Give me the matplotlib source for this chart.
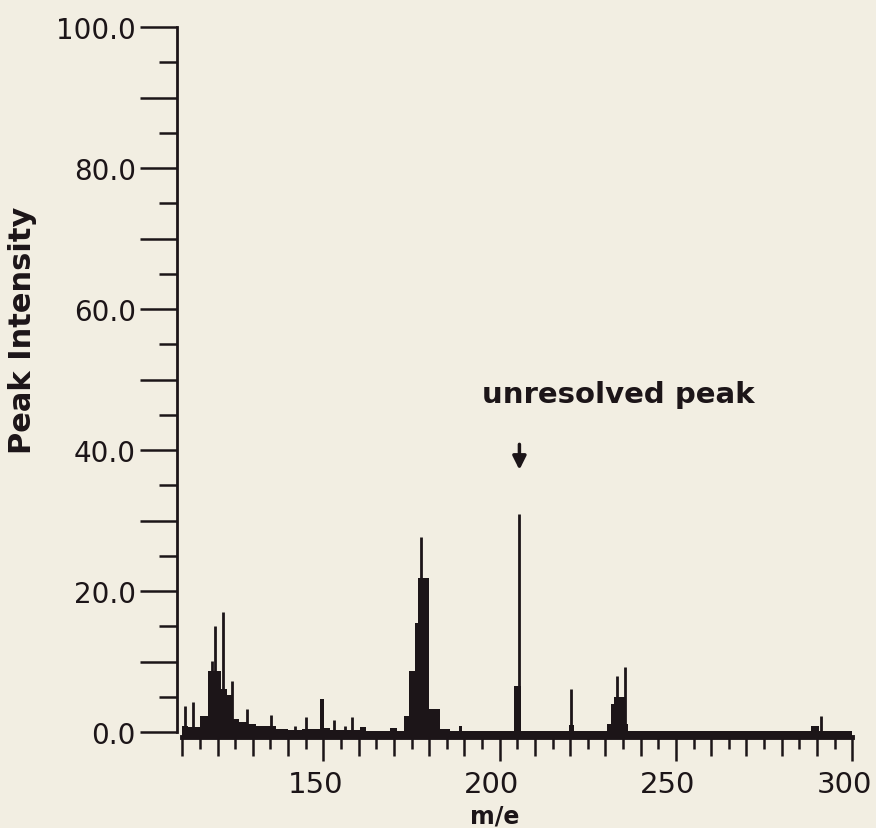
import matplotlib
matplotlib.use('Agg')
import matplotlib.pyplot as plt
import matplotlib.transforms as mtransforms
from matplotlib.ticker import MultipleLocator, FuncFormatter, FixedLocator

# broad, unresolved envelopes (left edge of each step, intensity of the step)
env_mz = [110.0, 111.5, 114.9, 117.4, 121.1, 122.6, 124.0, 126.0, 128.5, 131.0,
          134.0, 136.5, 140.0, 144.0, 149.0, 150.2, 152.0, 160.5, 162.0, 169.0,
          171.0, 173.0, 174.2, 175.9, 176.9, 179.9, 183.2, 186.0, 188.5, 189.2,
          204.0, 206.0, 219.6, 221.0, 230.5, 231.5, 232.5, 235.6, 236.5, 288.2,
          290.5, 300.0]
env_int = [0.9, 0.7, 2.3, 8.7, 6.1, 5.2, 1.8, 1.4, 1.1, 0.8,
           0.9, 0.5, 0.3, 0.5, 4.7, 0.6, 0.3, 0.7, 0.2, 0.6,
           0.2, 2.3, 8.7, 15.5, 21.8, 3.3, 0.5, 0.2, 0.9, 0.2,
           6.6, 0.2, 1.0, 0.2, 1.1, 4.0, 5.0, 1.1, 0.2, 0.8,
           0.2, 0.2]

# resolved single lines
peak_mz = [110.8, 113.1, 118.3, 119.2, 121.4, 124.0, 128.2, 135.1, 141.9, 145.0,
           153.1, 156.0, 158.1, 177.8, 188.8, 205.6, 220.3, 233.4, 235.5, 291.2]
peak_int = [3.7, 4.3, 10.1, 15.1, 17.0, 7.3, 3.3, 2.4, 0.9, 2.1,
            1.7, 0.9, 2.1, 27.7, 0.9, 30.9, 6.1, 8.0, 9.2, 2.3]

ink = '#1c1518'
bg = '#f2eee2'
base = -0.7

fig = plt.figure(figsize=(8.76, 8.29), dpi=100, facecolor=bg)
ax = fig.add_axes([0.2017, 0.1030, 0.7712, 0.8632])
ax.set_facecolor(bg)
ax.set_xlim(108.4, 300)
ax.set_ylim(-1.5, 100)

ax.fill_between(env_mz, base, env_int, step='post', color=ink, lw=0)
ax.vlines(peak_mz, base, peak_int, color=ink, lw=2.0)

for s in ['top', 'right']:
    ax.spines[s].set_visible(False)
ax.spines['left'].set_bounds(0, 100)
ax.spines['left'].set_linewidth(2)
ax.spines['left'].set_color(ink)
ax.spines['bottom'].set_position(('data', base))
ax.spines['bottom'].set_bounds(110, 300)
ax.spines['bottom'].set_linewidth(3.5)
ax.spines['bottom'].set_color(ink)

# y axis
ax.yaxis.set_major_locator(MultipleLocator(10))
ax.yaxis.set_minor_locator(MultipleLocator(5))
ax.yaxis.set_major_formatter(FuncFormatter(lambda v, p: f'{v:.1f}' if v % 20 == 0 else ''))
ax.tick_params(axis='y', which='major', direction='out', length=26.5, width=1.8,
               color=ink, labelsize=20, labelcolor=ink, pad=3)
ax.tick_params(axis='y', which='minor', direction='out', length=13, width=1.8, color=ink)

# x axis
ax.xaxis.set_major_locator(FixedLocator(list(range(110, 301, 10))))
ax.xaxis.set_minor_locator(FixedLocator(list(range(115, 300, 10))))
ax.xaxis.set_major_formatter(FuncFormatter(lambda v, p: f'{v:.0f}' if v % 50 == 0 else ''))
ax.tick_params(axis='x', which='major', direction='out', length=13.5, width=1.8,
               color=ink, labelsize=21, labelcolor=ink, pad=10)
ax.tick_params(axis='x', which='minor', direction='out', length=8.5, width=1.8, color=ink)
for t, v in zip(ax.xaxis.get_major_ticks(), range(110, 301, 10)):
    if v % 50 == 0:
        t.tick1line.set_markersize(17.5)
shift = mtransforms.ScaledTranslation(-8 / 100, 0, fig.dpi_scale_trans)
for lab in ax.get_xticklabels():
    lab.set_transform(lab.get_transform() + shift)

ax.set_ylabel('Peak Intensity', fontsize=22, fontweight='bold', color=ink)
ax.yaxis.set_label_coords(-0.207, 0.578)
ax.set_xlabel('m/e', fontsize=17, fontweight='bold', color=ink)
ax.xaxis.set_label_coords(0.47, -0.085)

ax.text(194.9, 46.8, 'unresolved peak', fontsize=21, fontweight='bold', color=ink,
        ha='left', va='baseline')
ax.annotate('', xy=(205.6, 36.8), xytext=(205.6, 41.2),
            arrowprops=dict(arrowstyle='-|>', color=ink, lw=2.5, mutation_scale=20))

plt.savefig('out.png', dpi=100, facecolor=bg)
